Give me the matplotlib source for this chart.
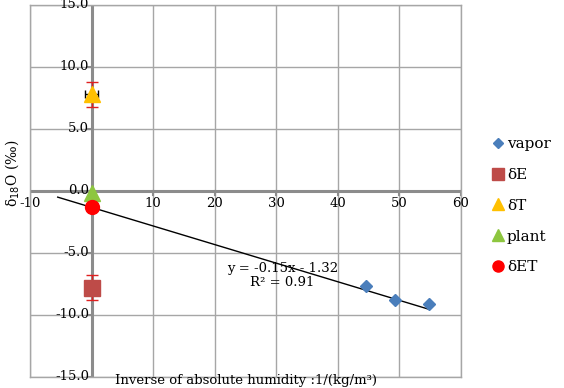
import numpy as np
import matplotlib.pyplot as plt
from matplotlib.lines import Line2D

plt.rcParams['font.family'] = ['DejaVu Serif']

# data
vapor_x = [44.6, 49.2, 54.8]
vapor_y = [-7.66, -8.75, -9.14]

dE_x, dE_y, dE_err = [0], [-7.8], [1.0]
dT_x, dT_y, dT_yerr, dT_xerr = [0], [7.8], [1.0], [1.05]
plant_x, plant_y = [0], [-0.2]
dET_x, dET_y = [0], [-1.3]

slope, intercept, r2 = -0.15, -1.32, 0.91
fit_range = [-5.5, 54.8]

fig = plt.figure(figsize=(5.64, 3.88), dpi=100)
ax = fig.add_axes([30 / 564, 11 / 388, 431 / 564, 372 / 388])

ax.set_xlim(-10, 60)
ax.set_ylim(-15, 15)
ax.set_xticks(np.arange(-10, 61, 10))
ax.set_yticks(np.arange(-15, 16, 5))
ax.grid(True, color='#a6a6a6', lw=1.0)
ax.set_axisbelow(True)
for s in ['top', 'right', 'left', 'bottom']:
    ax.spines[s].set_color('#a6a6a6')
    ax.spines[s].set_linewidth(1.0)
ax.tick_params(length=0, labelbottom=False, labelleft=False)

# main axes crossing at zero
ax.axvline(0, color='#8c8c8c', lw=2.2, zorder=1)
ax.axhline(0, color='#8c8c8c', lw=2.2, zorder=1)
for yv in np.arange(-15, 16, 5):
    ax.plot([-0.6, 0], [yv, yv], color='#8c8c8c', lw=1.5, zorder=1)
for xv in np.arange(-10, 61, 10):
    ax.plot([xv, xv], [0, -0.3], color='#8c8c8c', lw=1.5, zorder=1)

for yv in np.arange(-15, 16, 5):
    ax.text(-0.4, yv, f'{yv:.1f}', ha='right', va='center', fontsize=9.5)
for xv in np.arange(-10, 61, 10):
    ax.text(xv, -0.45, f'{xv}', ha='center', va='top', fontsize=9.5)

# trendline
fx = np.array(fit_range)
ax.plot(fx, slope * fx + intercept, color='black', lw=1.0, zorder=3)
ax.text(31, -6.8, f'y = -{abs(slope):.2f}x - {abs(intercept):.2f}\nR² = {r2:.2f}',
        ha='center', va='center', fontsize=9.5, linespacing=1.15)

ax.plot(vapor_x, vapor_y, 'D', color='#4a7ebb', ms=6, ls='none', zorder=4)
ax.errorbar(dE_x, dE_y, yerr=dE_err, fmt='s', color='#be4b48', ecolor='#e02020',
            ms=12, capsize=4, elinewidth=1, zorder=4)
ax.errorbar(dT_x, dT_y, yerr=dT_yerr, fmt='^', color='#ffc000', ecolor='#e02020',
            ms=11, capsize=4, elinewidth=1, zorder=4)
ax.errorbar(dT_x, dT_y, xerr=dT_xerr, fmt='none', ecolor='black', capsize=3,
            elinewidth=1, zorder=4)
ax.plot(plant_x, plant_y, '^', color='#8dc63f', ms=11, ls='none', zorder=4)
ax.plot(dET_x, dET_y, 'o', color='#ff0000', ms=10, ls='none', zorder=5)

handles = [
    Line2D([], [], marker='D', color='#4a7ebb', ls='none', ms=5),
    Line2D([], [], marker='s', color='#be4b48', ls='none', ms=8),
    Line2D([], [], marker='^', color='#ffc000', ls='none', ms=8),
    Line2D([], [], marker='^', color='#8dc63f', ls='none', ms=8),
    Line2D([], [], marker='o', color='#ff0000', ls='none', ms=8),
]
labels = ['vapor', 'δE', 'δT', 'plant', 'δET']
fig.legend(handles, labels, loc='upper left', bbox_to_anchor=(484 / 564, 1 - 131 / 388),
           frameon=False, fontsize=11, handletextpad=0.1, labelspacing=1.1,
           handlelength=1.0, borderaxespad=0)

fig.text(246 / 564, 1 / 388, 'Inverse of absolute humidity :1/(kg/m³)',
         ha='center', va='bottom', fontsize=9.5)
fig.text(12 / 564, 1 - 173 / 388, 'δ$_{18}$O (‰)', rotation=90, ha='center',
         va='center', fontsize=10)

fig.savefig('out.png', dpi=100)
